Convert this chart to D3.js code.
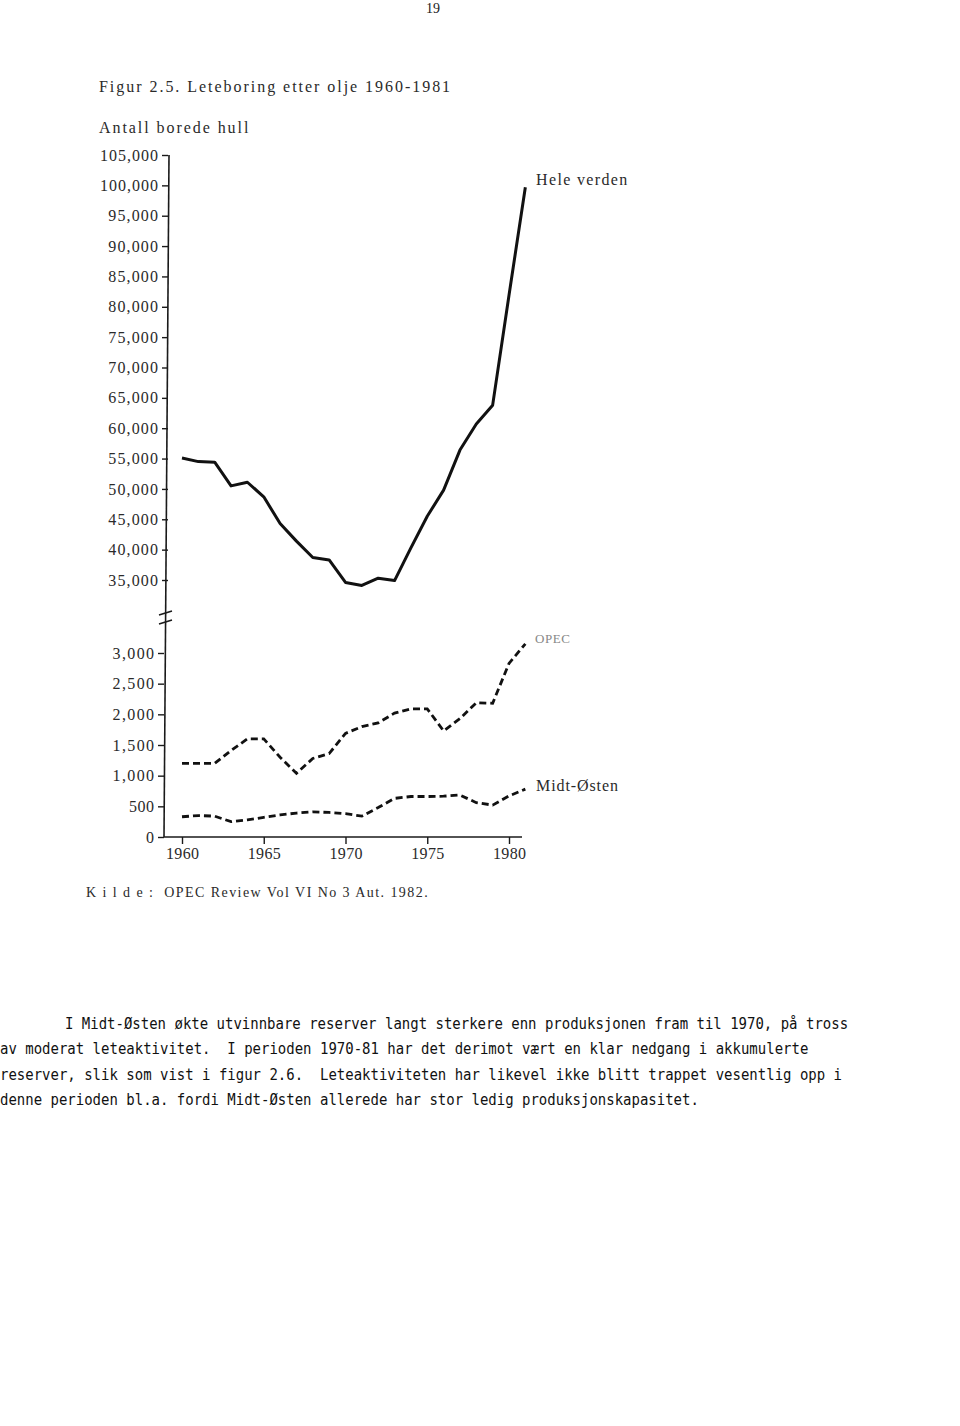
<!DOCTYPE html>
<html><head><meta charset="utf-8">
<script src="https://cdn.jsdelivr.net/npm/d3@7"></script>
<style>body{margin:0;background:#fff}svg{display:block}</style>
</head><body>
<script>
// ---- data ----
const years = [1960,1961,1962,1963,1964,1965,1966,1967,1968,1969,1970,1971,1972,1973,1974,1975,1976,1977,1978,1979,1980,1981];
const heleVerden = [55100,54500,54400,50500,51100,48700,44300,41400,38700,38300,34600,34100,35300,34900,40300,45500,49800,56400,60700,63800,81900,99700];
const opec = [1200,1200,1200,1410,1600,1600,1300,1040,1280,1360,1690,1800,1860,2020,2090,2090,1730,1930,2190,2180,2830,3150];
const midtOsten = [330,350,340,250,280,320,360,390,410,400,380,340,480,630,660,660,665,685,560,520,670,780];
const upperTicks = [35000,40000,45000,50000,55000,60000,65000,70000,75000,80000,85000,90000,95000,100000,105000];
const lowerTicks = [0,500,1000,1500,2000,2500,3000];
const xTicks = [1960,1965,1970,1975,1980];
const paragraph = [
  "I Midt-Østen økte utvinnbare reserver langt sterkere enn produksjonen fram til 1970, på tross",
  "av moderat leteaktivitet.  I perioden 1970-81 har det derimot vært en klar nedgang i akkumulerte",
  "reserver, slik som vist i figur 2.6.  Leteaktiviteten har likevel ikke blitt trappet vesentlig opp i",
  "denne perioden bl.a. fordi Midt-Østen allerede har stor ledig produksjonskapasitet."
];

const W = 960, H = 1426;
const svg = d3.select("body").append("svg").attr("width", W).attr("height", H);
svg.append("rect").attr("width", W).attr("height", H).attr("fill", "#fff");

const serif = "'Liberation Serif', 'DejaVu Serif', serif";
const ink = "#1a1a1a";

// typewriter-like text: serif glyphs spread to a fixed pitch
function tw(sel, pitch) {
  sel.each(function () {
    const t = d3.select(this).text();
    d3.select(this).attr("textLength", t.length * pitch).attr("lengthAdjust", "spacing");
  });
  return sel;
}

// scales
const x = d3.scaleLinear().domain([1960, 1980]).range([182, 509]);
const yU = d3.scaleLinear().domain([35000, 105000]).range([580, 155]);
const yL = d3.scaleLinear().domain([0, 3000]).range([837, 653]);

// page number & titles
svg.append("text").attr("x", 426).attr("y", 13).attr("font-family", serif)
  .attr("font-size", 14).attr("fill", ink).text("19");
svg.append("text").attr("x", 99).attr("y", 92).attr("font-family", serif).attr("font-size", 16)
  .attr("fill", "#2a2a2a").text("Figur 2.5. Leteboring etter olje 1960-1981").call(tw, 8.36);
svg.append("text").attr("x", 99).attr("y", 133).attr("font-family", serif).attr("font-size", 16)
  .attr("fill", "#2a2a2a").text("Antall borede hull").call(tw, 8.3);

// spine
svg.append("line").attr("x1", 169).attr("y1", 155).attr("x2", 164).attr("y2", 837)
  .attr("stroke", ink).attr("stroke-width", 1.6);

const fmt = d3.format(",");
function styleAxis(g) {
  g.select(".domain").remove();
  g.selectAll(".tick line").attr("stroke", ink).attr("stroke-width", 1.4);
  g.selectAll(".tick text").attr("font-family", serif).attr("font-size", 16).attr("fill", "#2a2a2a")
    .call(tw, 8.3);
}
svg.append("g").attr("transform", "translate(168,0)")
  .call(d3.axisLeft(yU).tickValues(upperTicks).tickFormat(fmt).tickSize(6).tickPadding(4))
  .call(styleAxis);
svg.append("g").attr("transform", "translate(164,0)")
  .call(d3.axisLeft(yL).tickValues(lowerTicks).tickFormat(fmt).tickSize(6).tickPadding(4))
  .call(styleAxis);

// axis break marks
svg.append("line").attr("x1", 159).attr("y1", 615).attr("x2", 172).attr("y2", 611).attr("stroke", ink).attr("stroke-width", 1.5);
svg.append("line").attr("x1", 159).attr("y1", 624).attr("x2", 172).attr("y2", 620).attr("stroke", ink).attr("stroke-width", 1.5);

// x axis
svg.append("line").attr("x1", 164).attr("y1", 837).attr("x2", 522).attr("y2", 837)
  .attr("stroke", ink).attr("stroke-width", 1.6);
svg.append("g").attr("transform", "translate(0,837)")
  .call(d3.axisBottom(x).tickValues(xTicks).tickFormat(d3.format("d")).tickSize(7).tickPadding(4))
  .call(styleAxis);

// lines
const lineU = d3.line().x((d, i) => x(years[i])).y(d => yU(d));
const lineL = d3.line().x((d, i) => x(years[i])).y(d => yL(d));

svg.append("path").attr("d", lineU(heleVerden)).attr("fill", "none").attr("stroke", "#111")
  .attr("stroke-width", 3).attr("stroke-linejoin", "round");
svg.append("path").attr("d", lineL(opec)).attr("fill", "none").attr("stroke", "#111")
  .attr("stroke-width", 2.8).attr("stroke-dasharray", "7,4");
svg.append("path").attr("d", lineL(midtOsten)).attr("fill", "none").attr("stroke", "#111")
  .attr("stroke-width", 2.8).attr("stroke-dasharray", "7,4");

// series labels
svg.append("text").attr("x", 536).attr("y", 185).attr("font-family", serif).attr("font-size", 16)
  .attr("fill", "#2a2a2a").text("Hele verden").call(tw, 8.3);
svg.append("text").attr("x", 535).attr("y", 643).attr("font-family", serif).attr("font-size", 13)
  .attr("fill", "#888").text("OPEC").call(tw, 8.7);
svg.append("text").attr("x", 536).attr("y", 791).attr("font-family", serif).attr("font-size", 16)
  .attr("fill", "#2a2a2a").text("Midt-Østen").call(tw, 8.2);

// source
svg.append("text").attr("x", 86).attr("y", 897).attr("font-family", serif).attr("font-size", 14)
  .attr("fill", "#2a2a2a").style("white-space", "pre")
  .text("K i l d e :  OPEC Review Vol VI No 3 Aut. 1982.").call(tw, 7.27);

// paragraph
const startX = [65, 0, 0, 0];
const baseY = [1029, 1054, 1080, 1105];
paragraph.forEach((t, i) => {
  svg.append("text").attr("x", startX[i]).attr("y", baseY[i])
    .attr("font-family", "'DejaVu Sans Mono', monospace").attr("font-size", 15.5)
    .attr("fill", "#111").style("white-space", "pre")
    .attr("textLength", t.length * 8.42).attr("lengthAdjust", "spacingAndGlyphs")
    .text(t);
});
</script>
</body></html>
